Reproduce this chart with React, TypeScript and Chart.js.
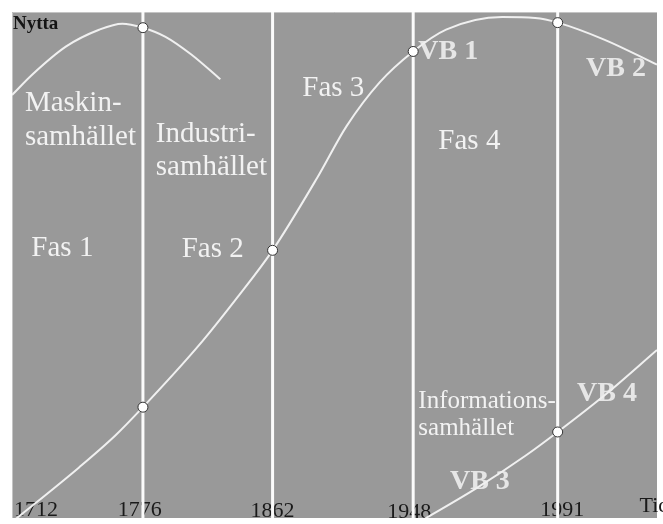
import React, { useEffect, useRef } from "react";
import { Chart, registerables } from "chart.js";

Chart.register(...registerables);

// Schematic axes: x = position along the time axis (0–100), y = "Nytta" (0–100)
const yearLabels = ["1712", "1776", "1862", "1948", "1991", "Tid"];
const yearTickX = [0.3, 19.8, 40.4, 61.6, 85.3, 97.3];
const yearTickY = [0.4, 0.4, 0.2, 0.0, 0.4, 1.2];
const yearAlign: CanvasTextAlign[] = ["left", "center", "center", "center", "center", "left"];

// Era boundaries (1776, 1862, 1948, 1991)
const boundaryX = [20.3, 40.4, 62.2, 84.6];

// Curve: Maskinsamhället (fas 1)
const curveMaskinX = [0, 3.2, 8.4, 13.5, 17.1, 20.3, 23.8, 27.8, 32.3];
const curveMaskinY = [83.6, 87.7, 93.2, 96.5, 97.7, 96.9, 95.1, 91.6, 86.7];

// Curve: Industrisamhället (S-curve)
const curveIndustriX = [0, 10.4, 16.1, 20.3, 28.9, 35.0, 40.4, 47.3, 51.9, 57.0, 62.2, 67.3, 76.0, 81.1, 84.6, 91.9, 100];
const curveIndustriY = [-0.8, 10.0, 16.4, 21.9, 34.0, 43.7, 52.9, 67.2, 77.5, 86.1, 92.2, 96.5, 99.0, 98.8, 97.9, 94.5, 89.6];

// Curve: Informationssamhället
const curveInfoX = [63.4, 71.9, 79.6, 84.6, 92.3, 100];
const curveInfoY = [-0.6, 5.8, 12.3, 17.0, 24.7, 33.2];

// Marked points (on the curves at the era boundaries)
const markerX = [20.3, 20.3, 40.4, 62.2, 84.6, 84.6];
const markerY = [96.9, 21.9, 52.9, 92.2, 97.9, 17.0];

// Text annotations
const noteTexts = [
  "Nytta", "Maskin-", "samhället", "Industri-", "samhället",
  "Fas 1", "Fas 2", "Fas 3", "Fas 4",
  "VB 1", "VB 2", "VB 3", "VB 4",
  "Informations-", "samhället",
];
const noteX = [0.15, 2.0, 2.0, 22.3, 22.3, 3.0, 26.3, 45.0, 66.1, 63.0, 89.0, 67.9, 87.6, 63.0, 63.0];
const noteY = [96.7, 80.5, 73.8, 74.4, 67.8, 51.8, 51.6, 83.4, 73.0, 90.8, 87.3, 5.7, 23.2, 21.7, 16.4];
const noteKind = ["title", "big", "big", "big", "big", "big", "big", "big", "big", "vb", "vb", "vb", "vb", "mid", "mid"];

const toPts = (xs: number[], ys: number[]) => xs.map((x, i) => ({ x, y: ys[i] }));

const fonts: Record<string, { font: string; color: string }> = {
  title: { font: "bold 19px 'Liberation Serif'", color: "#151515" },
  big: { font: "29px 'Liberation Serif'", color: "#f2f2f2" },
  mid: { font: "25px 'Liberation Serif'", color: "#f2f2f2" },
  vb: { font: "bold 28px 'Liberation Serif'", color: "#e6e6e6" },
};

const backgroundPlugin = {
  id: "bg",
  beforeDatasetsDraw(chart: any) {
    const { ctx, chartArea, scales } = chart;
    const { left, top, right, bottom } = chartArea;
    ctx.save();
    ctx.fillStyle = "#999999";
    ctx.fillRect(left, top, right - left, bottom - top);
    ctx.strokeStyle = "#c4c4c4";
    ctx.lineWidth = 1;
    ctx.beginPath();
    ctx.moveTo(left + 0.5, bottom);
    ctx.lineTo(left + 0.5, top + 0.5);
    ctx.lineTo(right, top + 0.5);
    ctx.stroke();

    ctx.textBaseline = "alphabetic";
    noteTexts.forEach((t, i) => {
      const f = fonts[noteKind[i]];
      ctx.font = f.font;
      ctx.fillStyle = f.color;
      ctx.textAlign = "left";
      ctx.fillText(t, scales.x.getPixelForValue(noteX[i]), scales.y.getPixelForValue(noteY[i]));
    });
    ctx.font = "22px 'Liberation Serif'";
    ctx.fillStyle = "#1a1a1a";
    yearLabels.forEach((t, i) => {
      ctx.textAlign = yearAlign[i];
      ctx.fillText(t, scales.x.getPixelForValue(yearTickX[i]), scales.y.getPixelForValue(yearTickY[i]));
    });
    ctx.restore();
  },
};

export default function App() {
  const ref = useRef<HTMLCanvasElement>(null);
  useEffect(() => {
    document.body.style.margin = "0";
    const curveStyle = {
      showLine: true,
      borderColor: "#f0f0f0",
      borderWidth: 2,
      pointRadius: 0,
      cubicInterpolationMode: "monotone",
      order: 1,
    };
    const chart = new Chart(ref.current!, {
      type: "scatter",
      data: {
        datasets: [
          {
            data: toPts(markerX, markerY),
            pointRadius: 5,
            pointBackgroundColor: "#ffffff",
            pointBorderColor: "#333333",
            pointBorderWidth: 1,
            showLine: false,
            order: 0,
          } as any,
          { ...curveStyle, data: toPts(curveMaskinX, curveMaskinY) } as any,
          { ...curveStyle, data: toPts(curveIndustriX, curveIndustriY) } as any,
          { ...curveStyle, data: toPts(curveInfoX, curveInfoY) } as any,
          ...boundaryX.map((b) => ({
            data: [{ x: b, y: 0 }, { x: b, y: 100 }],
            showLine: true,
            borderColor: "#fbfbfb",
            borderWidth: 3,
            pointRadius: 0,
            order: 2,
          })),
        ],
      },
      options: {
        animation: false,
        responsive: false,
        layout: { padding: { left: 12, top: 12, right: 0, bottom: 0 } },
        plugins: { legend: { display: false }, tooltip: { enabled: false } },
        scales: {
          x: { type: "linear", min: 0, max: 100, display: false },
          y: { type: "linear", min: 0, max: 100, display: false },
        },
      },
      plugins: [backgroundPlugin],
    });
    return () => chart.destroy();
  }, []);
  return (
    <div style={{ width: 663, height: 524, background: "#ffffff" }}>
      <canvas ref={ref} width={663} height={524} />
    </div>
  );
}
